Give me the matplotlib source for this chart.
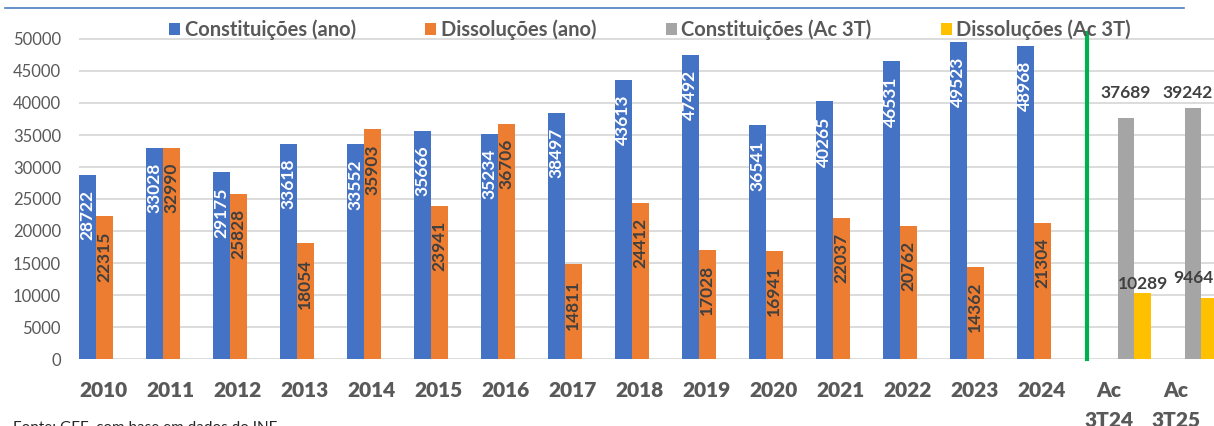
import matplotlib
matplotlib.use("Agg")
import matplotlib.pyplot as plt
import numpy as np

plt.rcParams['font.family'] = ['Lato', 'DejaVu Sans']

categories = ["2010", "2011", "2012", "2013", "2014", "2015", "2016", "2017",
              "2018", "2019", "2020", "2021", "2022", "2023", "2024",
              "Ac\n3T24", "Ac\n3T25"]
const_ano = [28722, 33028, 29175, 33618, 33552, 35666, 35234, 38497,
             43613, 47492, 36541, 40265, 46531, 49523, 48968]
diss_ano = [22315, 32990, 25828, 18054, 35903, 23941, 36706, 14811,
            24412, 17028, 16941, 22037, 20762, 14362, 21304]
const_ac = [37689, 39242]
diss_ac = [10289, 9464]
legend_labels = ["Constituições (ano)", "Dissoluções (ano)",
                 "Constituições (Ac 3T)", "Dissoluções (Ac 3T)"]
yticks = list(range(0, 50001, 5000))
source = "Fonte: GEE, com base em dados do INE"

C_BLUE = "#4472C4"
C_ORANGE = "#ED7D31"
C_GRAY = "#A5A5A5"
C_YELLOW = "#FFC000"
TXT = "#595959"

W, H = 1214, 426
fig = plt.figure(figsize=(W / 100, H / 100), dpi=100)
x0, x1 = 79, 1218
y0, y1 = 359, 32.6
ax = fig.add_axes([x0 / W, (H - y0) / H, (x1 - x0) / W, (y0 - y1) / H])

n_years = len(const_ano)
xi = np.arange(n_years)
xa = np.arange(n_years, n_years + len(const_ac))
bw = 0.25

ax.bar(xi - 1.5 * bw, const_ano, bw, color=C_BLUE, label=legend_labels[0], zorder=2)
ax.bar(xi - 0.5 * bw, diss_ano, bw, color=C_ORANGE, label=legend_labels[1], zorder=2)
ax.bar(xa + 0.5 * bw, const_ac, bw, color=C_GRAY, label=legend_labels[2], zorder=2)
ax.bar(xa + 1.5 * bw, diss_ac, bw, color=C_YELLOW, label=legend_labels[3], zorder=2)

# rotated labels inside bars
for xs, vals, col in ((xi - 1.5 * bw, const_ano, "white"), (xi - 0.5 * bw, diss_ano, "#404040")):
    for xv, v in zip(xs, vals):
        ax.annotate(str(v), xy=(xv, v), xytext=(0, -15), textcoords="offset pixels",
                    rotation=90, ha="center", va="top", color=col,
                    fontsize=12.5, fontweight="bold", zorder=3)

# horizontal labels above the accumulated bars
gmax = max(const_ac)
for k, (xv, v) in enumerate(zip(xa + 0.5 * bw, const_ac)):
    dx = 0 if k == 0 else -5
    ax.annotate(str(v), xy=(xv, gmax), xytext=(dx, 7), textcoords="offset pixels",
                ha="center", va="bottom", color="#404040", fontsize=12.5, fontweight="bold")
for k, (xv, v) in enumerate(zip(xa + 1.5 * bw, diss_ac)):
    dx, dy = (0, 1) if k == 0 else (-16, 12)
    ax.annotate(str(v), xy=(xv, v), xytext=(dx, dy), textcoords="offset pixels",
                ha="center", va="bottom", color="#404040", fontsize=12.5, fontweight="bold")

ax.set_xlim(-0.5, len(categories) - 0.5)
ax.set_ylim(0, 51000)
ax.set_yticks(yticks)
ax.set_yticklabels([str(t) for t in yticks], fontsize=12, color=TXT)
ax.set_xticks(np.arange(len(categories)) - 0.13)
ax.set_xticklabels(categories, fontsize=15, fontweight="heavy", color=TXT, linespacing=1.65)
ax.tick_params(axis="y", length=0, pad=13)
ax.tick_params(axis="x", length=0, pad=16)
for s in ax.spines.values():
    s.set_visible(False)
ax.grid(axis="y", color="#D9D9D9", linewidth=1.3, zorder=0)
ax.set_axisbelow(True)

# green separator
ax.plot([14.55, 14.55], [0, 51000], color="#00B050", linewidth=3, zorder=4, clip_on=False)

leg = ax.legend(loc="center left", bbox_to_anchor=((169 - x0) / (x1 - x0), (y0 - 30) / (y0 - y1)),
                ncol=4, frameon=False, prop={"weight": "bold", "size": 14.5},
                handlelength=0.55, handleheight=0.55, handletextpad=0.22,
                columnspacing=3.45, borderpad=0, borderaxespad=0)
for t in leg.get_texts():
    t.set_color(TXT)

# top blue line
fig.add_artist(plt.Line2D([5 / W, 1184 / W], [(H - 8) / H, (H - 8) / H],
                          color="#4A7EC0", linewidth=1.2))

fig.text(13 / W, (H - 421) / H, source, fontsize=11, color="#262626", va="top", ha="left")

fig.savefig("out.png", dpi=100)
